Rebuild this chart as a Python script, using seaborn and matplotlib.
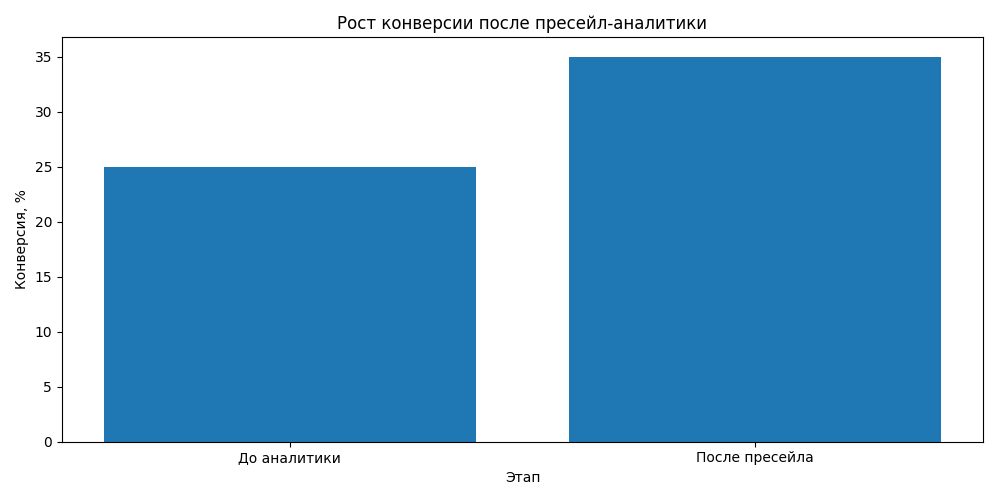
import matplotlib
matplotlib.use("Agg")
import matplotlib.pyplot as plt
import pandas as pd
import seaborn as sns

# Data
stages = ["До аналитики", "После пресейла"]
conversion = [25, 35]


def draw_bar_plot():
    df = pd.DataFrame({"stage": stages, "conversion": conversion})

    fig, ax = plt.subplots(figsize=(9.98, 5), dpi=100)
    sns.barplot(data=df, x="stage", y="conversion", color="#1f77b4",
                saturation=1, width=0.8, errorbar=None, linewidth=0, ax=ax)
    # back to matplotlib default margins
    ax.autoscale(enable=True, axis="x")
    ax.set_title("Рост конверсии после пресейл-аналитики")
    ax.set_xlabel("Этап")
    ax.set_ylabel("Конверсия, %")
    fig.tight_layout()
    fig.savefig("out.png")
    return fig


draw_bar_plot()
